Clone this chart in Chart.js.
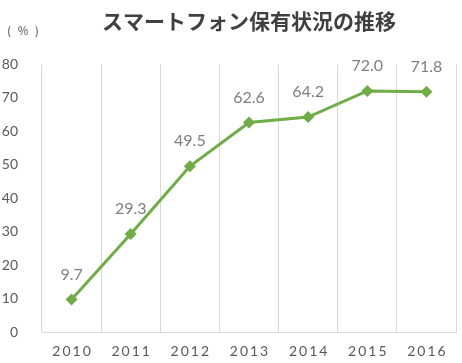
<!DOCTYPE html>
<html>
<head>
<meta charset="utf-8">
<script src="https://cdn.jsdelivr.net/npm/chart.js@4/dist/chart.umd.min.js"></script>
<style>
  html, body { margin: 0; background: #fff; }
</style>
</head>
<body>
<canvas id="chart" width="462" height="363"></canvas>
<script>
const years = ['2010', '2011', '2012', '2013', '2014', '2015', '2016']
const ownership = [9.7, 29.3, 49.5, 62.6, 64.2, 72.0, 71.8]
const chartTitle = 'スマートフォン保有状況の推移'
const unitLabel = '( % )'

const green = '#70AD47'

// value labels over the points and the unit label in the corner
const valueLabels = {
  id: 'valueLabels',
  afterDatasetsDraw(chart) {
    const ctx = chart.ctx
    const meta = chart.getDatasetMeta(0)
    ctx.save()
    ctx.font = '16px Lato'
    ctx.fillStyle = '#7f7f7f'
    ctx.textAlign = 'center'
    ctx.textBaseline = 'middle'
    meta.data.forEach((pt, i) => {
      ctx.fillText(ownership[i].toFixed(1), pt.x, pt.y - 25)
    })
    ctx.font = 'bold 11px "Noto Sans CJK JP"'
    ctx.fillStyle = '#7f7f7f'
    ctx.textAlign = 'left'
    ctx.letterSpacing = '2px'
    ctx.fillText(unitLabel, 7, 31)
    ctx.restore()
  }
}

// wide letter spacing on the year labels
const spacedYears = {
  id: 'spacedYears',
  beforeDraw(chart) {
    const sc = chart.scales.x
    if (sc._spaced) return
    const orig = sc.drawLabels
    sc.drawLabels = function (area) {
      const ctx = this.ctx
      ctx.save()
      ctx.letterSpacing = '2px'
      ctx.translate(1, 0)
      orig.call(this, area)
      ctx.restore()
    }
    sc._spaced = true
  }
}

new Chart(document.getElementById('chart'), {
  type: 'line',
  data: {
    labels: years,
    datasets: [{
      data: ownership,
      borderColor: green,
      backgroundColor: green,
      borderWidth: 3,
      tension: 0,
      pointStyle: 'rectRot',
      pointRadius: 6,
      pointBorderWidth: 0,
      pointBackgroundColor: green
    }]
  },
  options: {
    responsive: false,
    animation: false,
    layout: { padding: { right: 4 } },
    plugins: {
      legend: { display: false },
      tooltip: { enabled: false },
      title: {
        display: true,
        text: chartTitle,
        fullSize: false,
        color: '#404040',
        font: { family: '"Noto Sans CJK JP"', size: 21, weight: 'bold', lineHeight: 1.2 },
        padding: { top: 8, bottom: 31 }
      }
    },
    scales: {
      x: {
        offset: true,
        grid: { offset: true, color: '#d9d9d9', lineWidth: 1, drawTicks: false },
        border: { color: '#d9d9d9' },
        ticks: {
          color: '#595959',
          font: { family: 'Lato', size: 14 },
          padding: 11,
          maxRotation: 0
        },
        afterFit(scale) { scale.height = 31 }
      },
      y: {
        min: 0,
        max: 80,
        grid: { display: false },
        border: { display: false },
        ticks: {
          stepSize: 10,
          color: '#595959',
          font: { family: 'Lato', size: 14 },
          padding: 16
        },
        afterFit(scale) { scale.width = 42 }
      }
    }
  },
  plugins: [valueLabels, spacedYears]
})
</script>
</body>
</html>
